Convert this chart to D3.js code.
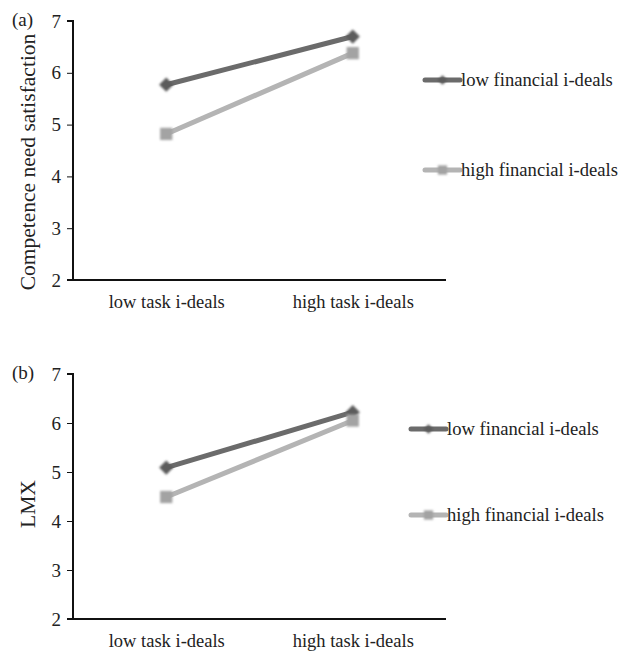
<!DOCTYPE html>
<html>
<head>
<meta charset="utf-8">
<script src="https://cdn.jsdelivr.net/npm/d3@7"></script>
<style>
  body { margin: 0; background: #fff; }
  svg { display: block; }
  text { font-family: "Liberation Serif", "Times New Roman", serif; fill: #222; }
</style>
</head>
<body>
<div id="chart"></div>
<script>
// data
const taskLevels = ["low task i-deals", "high task i-deals"];
const seriesNames = ["low financial i-deals", "high financial i-deals"];
const competenceLow = [5.77, 6.70];
const competenceHigh = [4.82, 6.38];
const lmxLow = [5.09, 6.22];
const lmxHigh = [4.49, 6.05];
const yTicks = [2, 3, 4, 5, 6, 7];

const panels = [
  { tag: "(a)", title: "Competence need satisfaction", top: 21, bottom: 280, titleY: 162,
    series: [competenceLow, competenceHigh], legendY: [80, 170], legendX: 425 },
  { tag: "(b)", title: "LMX", top: 374, bottom: 619, titleY: 504,
    series: [lmxLow, lmxHigh], legendY: [429, 515], legendX: 411 },
];

const LEFT = 73;
const RIGHT = 446;
const COLORS = ["#6b6b6b", "#b4b4b4"];
const MARKER = ["#5c5c5c", "#a3a3a3"];

const svg = d3.select("#chart").append("svg")
  .attr("width", 630).attr("height", 652);

const defs = svg.append("defs");
const blur = defs.append("filter").attr("id", "soft")
  .attr("x", "-50%").attr("y", "-50%").attr("width", "200%").attr("height", "200%");
blur.append("feGaussianBlur").attr("stdDeviation", 0.8);

const x = d3.scalePoint().domain(taskLevels).range([LEFT, RIGHT]).padding(0.5);

panels.forEach((p) => {
  const y = d3.scaleLinear().domain([2, 7]).range([p.bottom, p.top]);
  const g = svg.append("g");

  // y axis
  const ya = g.append("g")
    .attr("transform", `translate(${LEFT},0)`)
    .call(d3.axisLeft(y).tickValues(yTicks).tickSize(6).tickPadding(6).tickFormat(d3.format("d")));
  ya.select(".domain").attr("stroke", "#111").attr("stroke-width", 2).attr("d", `M-6,${p.top}H0V${p.bottom}`);
  ya.selectAll(".tick line").attr("stroke", "#111").attr("stroke-width", 1);
  ya.selectAll(".tick text").attr("font-size", 19).attr("font-family", "Liberation Serif").attr("fill", "#222");

  // x axis
  const xa = g.append("g")
    .attr("transform", `translate(0,${p.bottom})`)
    .call(d3.axisBottom(x).tickSize(0));
  xa.select(".domain").attr("stroke", "#111").attr("stroke-width", 2).attr("d", `M${LEFT - 6},0H${RIGHT}`);
  xa.selectAll(".tick text").attr("font-size", 18.5).attr("font-family", "Liberation Serif")
    .attr("fill", "#222").attr("y", 28).attr("dy", 0);

  // titles
  g.append("text").text(p.tag)
    .attr("x", 12).attr("y", p.top + 5).attr("font-size", 19);
  g.append("text").text(p.title)
    .attr("text-anchor", "middle").attr("font-size", 21.5)
    .attr("transform", `translate(35,${p.titleY}) rotate(-90)`);

  const line = d3.line().x((d, i) => x(taskLevels[i])).y((d) => y(d));

  // draw the light series first, dark on top at the markers
  [1, 0].forEach((s) => {
    const vals = p.series[s];
    g.append("path").datum(vals)
      .attr("d", line).attr("fill", "none")
      .attr("stroke", COLORS[s]).attr("stroke-width", 5);
  });
  [0, 1].forEach((s) => {
    const vals = p.series[s];
    g.selectAll(null).data(vals).join("path")
      .attr("transform", (d, i) => `translate(${x(taskLevels[i])},${y(d)})`)
      .attr("d", d3.symbol().type(s === 0 ? d3.symbolDiamond2 : d3.symbolSquare2).size(s === 0 ? 130 : 190))
      .attr("fill", MARKER[s]).attr("stroke", "none")
      .attr("filter", "url(#soft)");
  });

  // legend
  seriesNames.forEach((name, s) => {
    const ly = p.legendY[s];
    const lg = g.append("g").attr("transform", `translate(${p.legendX},${ly})`);
    lg.append("line").attr("x1", 0).attr("x2", 35).attr("y1", 0).attr("y2", 0)
      .attr("stroke", COLORS[s]).attr("stroke-width", 5).attr("stroke-linecap", "round");
    lg.append("path")
      .attr("transform", "translate(17.5,0)")
      .attr("d", d3.symbol().type(s === 0 ? d3.symbolDiamond2 : d3.symbolSquare2).size(s === 0 ? 60 : 110))
      .attr("fill", MARKER[s]).attr("filter", "url(#soft)");
    lg.append("text").text(name)
      .attr("x", 36).attr("y", 6).attr("font-size", 18.6);
  });
});
</script>
</body>
</html>
